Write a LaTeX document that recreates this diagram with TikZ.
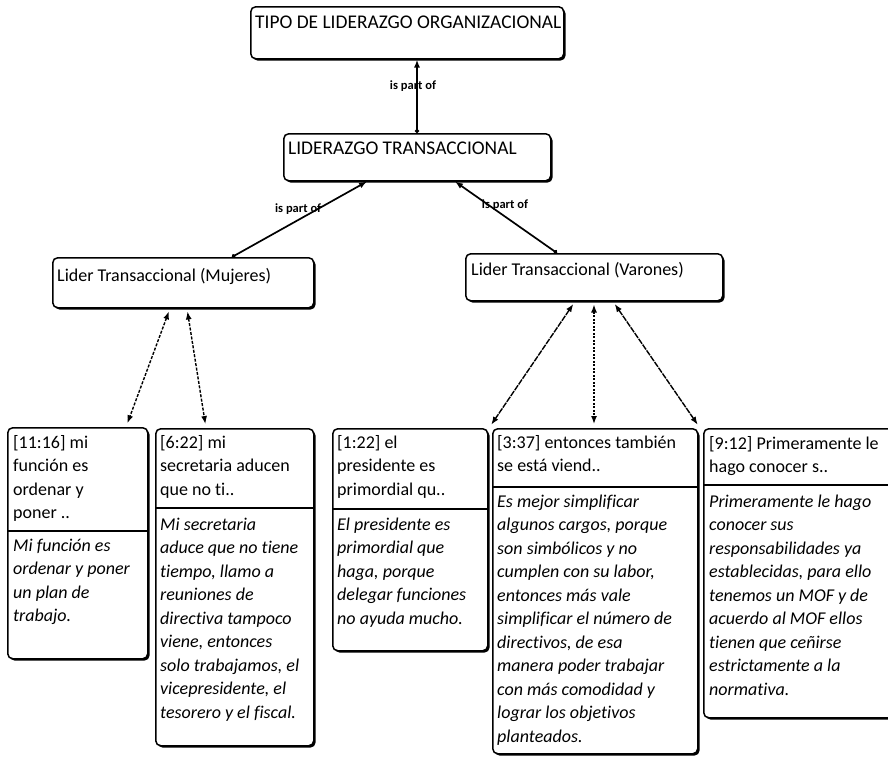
\documentclass[tikz,border=0pt]{standalone}
\usepackage{fontspec}
\setmainfont[Ligatures=NoCommon]{Carlito}
\usetikzlibrary{arrows.meta,shadows}
\begin{document}
\begin{tikzpicture}[x=1pt,y=-1pt,
  box/.style={draw, line width=1.5pt, rounded corners=5pt, fill=white, inner sep=0pt, anchor=north west,
    drop shadow={shadow xshift=1.8pt, shadow yshift=-1.8pt, fill=black, opacity=1}},
  hd/.style={font=\fontsize{19.4}{23}\selectfont, anchor=base west, inner sep=0pt},
  md/.style={font=\fontsize{18}{22}\selectfont, anchor=base west, inner sep=0pt},
  qt/.style={font=\fontsize{18}{23.5}\selectfont, align=left, anchor=north west, inner sep=0pt},
  qi/.style={font=\fontsize{18}{23.5}\selectfont\itshape, align=left, anchor=north west, inner sep=0pt},
  lbl/.style={font=\fontsize{12.5}{14}\selectfont\bfseries, inner sep=0pt},
  link/.style={line width=1.7pt, arrows={Circle[length=4pt]-Latex[length=8pt,width=6pt]}},
  dlink/.style={line width=1.4pt, arrows={Latex[length=8pt,width=6pt]-Latex[length=8pt,width=6pt]},
    dash pattern=on 3pt off 1.5pt, shorten <=3pt, shorten >=4pt},
  dlinkb/.style={dlink, dash pattern=on 6pt off 1pt},
  dlinkc/.style={dlink, dash pattern=on 2pt off 1.5pt},
  divider/.style={line width=1.1pt}
]
\useasboundingbox (0,0) rectangle (888,756);
\clip (0,0) rectangle (888,756);
\fill[white] (0,0) rectangle (888,756);

% header boxes
\node[box, minimum width=313pt, minimum height=52pt] (T) at (250,6) {};
\node[hd] (Tt) at (255,28) {TIPO DE LIDERAZGO ORGANIZACIONAL};
\node[box, minimum width=267pt, minimum height=47pt] (L) at (283,133) {};
\node[hd] (Lt) at (288,154) {LIDERAZGO TRANSACCIONAL};
\node[box, minimum width=261pt, minimum height=50pt] (M) at (52,257) {};
\node[md] (Mt) at (57,281) {Lider Transaccional (Mujeres)};
\node[box, minimum width=257pt, minimum height=47pt] (V) at (465,253) {};
\node[md] (Vt) at (471,275) {Lider Transaccional (Varones)};

% quotation boxes
\node[box, minimum width=140pt, minimum height=231pt] (A) at (7,427) {};
\draw[divider] (A.west |- 0,531) -- (A.east |- 0,531);
\node[qt] (Ah) at (13,431.5) {\strut[11:16] mi\\función es\\ordenar y\\poner ..};
\node[qi] (Ab) at (13,534.5) {\strut Mi función es\\ordenar y poner\\un plan de\\trabajo.};

\node[box, minimum width=158pt, minimum height=317pt] (B) at (155,428) {};
\draw[divider] (B.west |- 0,508) -- (B.east |- 0,508);
\node[qt] (Bh) at (160,431.5) {\strut[6:22] mi\\secretaria aducen\\que no ti..};
\node[qi] (Bb) at (160,513.5) {\strut Mi secretaria\\aduce que no tiene\\tiempo, llamo a\\reuniones de\\directiva tampoco\\viene, entonces\\solo trabajamos, el\\vicepresidente, el\\tesorero y el fiscal.};

\node[box, minimum width=155pt, minimum height=222pt] (C) at (332,428) {};
\draw[divider] (C.west |- 0,509) -- (C.east |- 0,509);
\node[qt] (Ch) at (337,431.5) {\strut[1:22] el\\presidente es\\primordial qu..};
\node[qi] (Cb) at (337,513.5) {\strut El presidente es\\primordial que\\haga, porque\\delegar funciones\\no ayuda mucho.};

\node[box, minimum width=205pt, minimum height=325pt] (D) at (492,428) {};
\draw[divider] (D.west |- 0,487) -- (D.east |- 0,487);
\node[qt] (Dh) at (497,431.5) {\strut[3:37] entonces también\\se está viend..};
\node[qi] (Db) at (497,490.5) {\strut Es mejor simplificar\\algunos cargos, porque\\son simbólicos y no\\cumplen con su labor,\\entonces más vale\\simplificar el número de\\directivos, de esa\\manera poder trabajar\\con más comodidad y\\lograr los objetivos\\planteados.};

\node[box, minimum width=200pt, minimum height=289pt] (E) at (703,428) {};
\draw[divider] (E.west |- 0,485) -- (E.east |- 0,485);
\node[qt] (Eh) at (709,432.5) {\strut[9:12] Primeramente le\\hago conocer s..};
\node[qi] (Eb) at (709,490.5) {\strut Primeramente le hago\\conocer sus\\responsabilidades ya\\establecidas, para ello\\tenemos un MOF y de\\acuerdo al MOF ellos\\tienen que ceñirse\\estrictamente a la\\normativa.};

% is part of links
\draw[link] ([xshift=134pt]L.north west) -- node[lbl, pos=0.64, xshift=-4pt] (lb1) {is part of} ([xshift=167pt]T.south west);
\draw[link] ([xshift=180pt]M.north west) -- node[lbl, pos=0.49, yshift=11pt] (lb2) {is part of} ([xshift=84pt]L.south west);
\draw[link] ([xshift=92pt]V.north west) -- node[lbl, pos=0.51, yshift=11pt] (lb3) {is part of} ([xshift=172pt]L.south west);

% quotation links
\draw[dlink] ([xshift=118pt]M.south west) -- ([xshift=119pt]A.north west);
\draw[dlink] ([xshift=135pt]M.south west) -- ([xshift=51pt]B.north west);
\draw[dlinkb] ([xshift=110pt]V.south west) -- ([xshift=-3pt]D.north west);
\draw[dlinkc] ([xshift=129pt]V.south west) -- ([xshift=102pt]D.north west);
\draw[dlinkb] ([xshift=148pt]V.south west) -- ([xshift=-3pt]E.north west);
\end{tikzpicture}
\end{document}
